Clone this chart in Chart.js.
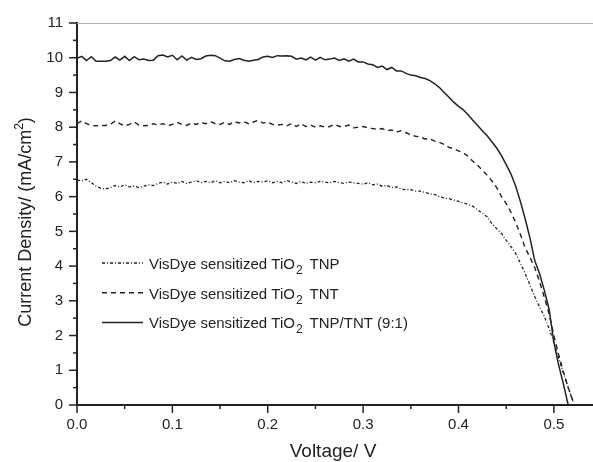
<!DOCTYPE html>
<html><head><meta charset="utf-8">
<script src="https://cdn.jsdelivr.net/npm/chart.js@4/dist/chart.umd.min.js"></script>
<style>html,body{margin:0;padding:0;background:#fff;overflow:hidden}#wrap{width:593px;height:462px;position:relative}</style>
</head><body><div id="wrap"><canvas id="c" width="593" height="462"></canvas></div>
<script>
// ---- data ----
const voltage = [
  0.000,0.005,0.010,0.015,0.020,0.025,0.030,0.035,0.040,0.045,
  0.050,0.055,0.060,0.065,0.070,0.075,0.080,0.085,0.090,0.095,
  0.100,0.105,0.110,0.115,0.120,0.125,0.130,0.135,0.140,0.145,
  0.150,0.155,0.160,0.165,0.170,0.175,0.180,0.185,0.190,0.195,
  0.200,0.205,0.210,0.215,0.220,0.225,0.230,0.235,0.240,0.245,
  0.250,0.255,0.260,0.265,0.270,0.275,0.280,0.285,0.290,0.295,
  0.300,0.305,0.310,0.315,0.320,0.325,0.330,0.335,0.340,0.345,
  0.350,0.355,0.360,0.365,0.370,0.375,0.380,0.385,0.390,0.395,
  0.400,0.405,0.410,0.415,0.420,0.425,0.430,0.435,0.440,0.445,
  0.450,0.455,0.460,0.465,0.470,0.475,0.480,0.485,0.490,0.495,
  0.500,0.505,0.510,0.515,0.520
];
const jTNP = [
  6.48,6.45,6.50,6.40,6.30,6.24,6.22,6.26,6.32,6.28,
  6.34,6.28,6.30,6.26,6.30,6.34,6.32,6.38,6.42,6.36,
  6.42,6.38,6.44,6.38,6.42,6.46,6.40,6.44,6.40,6.46,
  6.40,6.44,6.40,6.46,6.42,6.40,6.46,6.40,6.44,6.42,
  6.46,6.40,6.44,6.40,6.46,6.42,6.38,6.44,6.38,6.42,
  6.40,6.44,6.42,6.40,6.44,6.40,6.38,6.42,6.40,6.38,
  6.36,6.40,6.34,6.36,6.30,6.32,6.26,6.28,6.22,6.20,
  6.20,6.16,6.16,6.12,6.08,6.06,6.00,5.96,5.94,5.90,
  5.86,5.82,5.78,5.72,5.62,5.52,5.42,5.22,5.08,4.94,
  4.74,4.56,4.36,4.08,3.78,3.45,3.12,2.82,2.55,2.20,
  1.80,1.35,0.92,0.50,0.10
];
const jTNT = [
  8.10,8.18,8.10,8.05,8.04,8.05,8.05,8.08,8.18,8.10,
  8.04,8.08,8.15,8.06,8.04,8.05,8.10,8.06,8.10,8.04,
  8.08,8.14,8.08,8.05,8.12,8.08,8.14,8.10,8.16,8.10,
  8.08,8.14,8.08,8.16,8.12,8.16,8.10,8.15,8.20,8.12,
  8.14,8.08,8.06,8.08,8.04,8.10,8.02,8.10,8.02,8.06,
  8.00,8.04,8.00,8.02,8.08,8.02,8.02,8.06,7.98,8.00,
  8.02,7.98,7.96,7.94,7.96,7.90,7.92,7.86,7.90,7.84,
  7.78,7.74,7.72,7.66,7.66,7.60,7.56,7.50,7.42,7.38,
  7.32,7.26,7.16,7.02,6.90,6.76,6.62,6.45,6.26,6.00,
  5.80,5.55,5.25,4.90,4.52,4.25,3.95,3.55,3.10,2.62,
  2.00,1.45,0.95,0.50,0.12
];
const jMix = [
  9.98,10.04,9.92,10.03,9.90,9.90,9.90,9.92,10.02,9.93,
  10.04,9.92,10.03,9.94,9.96,9.92,9.93,10.06,10.08,10.02,
  10.07,9.94,10.05,9.93,10.01,9.95,9.97,10.05,10.07,10.06,
  9.99,9.91,9.90,9.95,9.98,9.93,9.90,9.93,9.95,10.02,
  10.04,10.01,10.06,10.05,10.06,10.04,9.96,9.99,9.94,10.02,
  9.93,10.01,9.94,9.96,9.99,9.92,9.97,9.90,9.96,9.88,
  9.88,9.82,9.80,9.72,9.76,9.66,9.72,9.62,9.62,9.55,
  9.50,9.48,9.43,9.40,9.34,9.25,9.14,9.00,8.86,8.72,
  8.60,8.50,8.36,8.20,8.05,7.90,7.75,7.58,7.40,7.18,
  6.92,6.65,6.30,5.85,5.35,4.80,4.15,3.78,3.30,2.75,
  1.80,1.15,0.60,0.00,null
];
const legendParts = [
  ['VisDye sensitized TiO', '2', 'TNP'],
  ['VisDye sensitized TiO', '2', 'TNT'],
  ['VisDye sensitized TiO', '2', 'TNP/TNT (9:1)']
];
const xTitle = 'Voltage/ V';
const yTitleParts = ['Current Density/ (mA/cm', '2', ')'];
const xRange = [0, 0.541];
const yRange = [0, 11];

// ---- styling ----
const FONT = '"Liberation Sans", Arial, Helvetica, sans-serif';
const INK = '#222222';
const dashes = [[3,2,1,2], [5,4], []];
const widths = [1.3, 1.4, 1.5];

function pts(arr){ return voltage.map((v,i)=>({x:v, y:arr[i]})); }

const decor = {
  id: 'decor',
  afterDraw(chart){
    const {ctx, chartArea:a, scales:{x, y}} = chart;
    ctx.save();
    // top frame line
    ctx.strokeStyle = '#b4b4b4'; ctx.lineWidth = 1;
    ctx.beginPath(); ctx.moveTo(a.left, a.top + 0.5); ctx.lineTo(a.right, a.top + 0.5); ctx.stroke();
    // tick marks (major / minor)
    ctx.strokeStyle = INK; ctx.lineWidth = 1.5;
    x.ticks.forEach(t => {
      const px = x.getPixelForValue(t.value);
      const L = t.label !== '' ? 8 : 4;
      ctx.beginPath(); ctx.moveTo(px, a.bottom); ctx.lineTo(px, a.bottom + L); ctx.stroke();
    });
    y.ticks.forEach(t => {
      const py = y.getPixelForValue(t.value);
      const L = t.label !== '' ? 8 : 4;
      ctx.beginPath(); ctx.moveTo(a.left, py); ctx.lineTo(a.left - L, py); ctx.stroke();
    });
    // legend
    const lx = a.left + 25, ly0 = a.top + 240, dy = 29.7;
    chart.data.datasets.forEach((ds, i) => {
      const ry = ly0 + i * dy;
      ctx.save();
      ctx.strokeStyle = ds.borderColor; ctx.lineWidth = ds.borderWidth;
      ctx.setLineDash(ds.borderDash || []);
      ctx.beginPath(); ctx.moveTo(lx, ry); ctx.lineTo(lx + 41, ry); ctx.stroke();
      ctx.restore();
      const p = legendParts[i];
      let tx = lx + 47; const base = ry + 6;
      ctx.fillStyle = INK; ctx.textBaseline = 'alphabetic'; ctx.textAlign = 'left';
      ctx.font = '15px ' + FONT; ctx.fillText(p[0], tx, base); tx += ctx.measureText(p[0]).width + 1;
      ctx.font = '12px ' + FONT; ctx.fillText(p[1], tx, base + 5); tx += ctx.measureText(p[1]).width + 7;
      ctx.font = '15px ' + FONT; ctx.fillText(p[2], tx, base);
    });
    // x title
    ctx.fillStyle = INK; ctx.font = '19px ' + FONT; ctx.textAlign = 'center'; ctx.textBaseline = 'alphabetic';
    ctx.fillText(xTitle, (a.left + a.right) / 2 - 2, 457);
    // y title with superscript
    ctx.save();
    ctx.translate(31, (a.top + a.bottom) / 2 + 8);
    ctx.rotate(-Math.PI / 2);
    ctx.textAlign = 'left';
    ctx.font = '18px ' + FONT; const w0 = ctx.measureText(yTitleParts[0]).width, w2 = ctx.measureText(yTitleParts[2]).width;
    ctx.font = '12px ' + FONT; const w1 = ctx.measureText(yTitleParts[1]).width;
    let sx = -(w0 + w1 + w2) / 2;
    ctx.font = '18px ' + FONT; ctx.fillText(yTitleParts[0], sx, 0); sx += w0;
    ctx.font = '12px ' + FONT; ctx.fillText(yTitleParts[1], sx, -8); sx += w1;
    ctx.font = '18px ' + FONT; ctx.fillText(yTitleParts[2], sx, 0);
    ctx.restore();
    ctx.restore();
  }
};

new Chart(document.getElementById('c'), {
  type: 'line',
  data: {
    datasets: [
      { label: legendParts[0][0] + legendParts[0][1] + ' ' + legendParts[0][2], data: pts(jTNP) },
      { label: legendParts[1][0] + legendParts[1][1] + ' ' + legendParts[1][2], data: pts(jTNT) },
      { label: legendParts[2][0] + legendParts[2][1] + ' ' + legendParts[2][2], data: pts(jMix) }
    ].map((d, i) => Object.assign(d, {
      borderColor: INK, borderWidth: widths[i], borderDash: dashes[i],
      pointRadius: 0, tension: 0, fill: false, spanGaps: false
    }))
  },
  options: {
    responsive: false, animation: false, devicePixelRatio: 1,
    layout: { padding: { top: 21, right: 0, left: 0, bottom: 0 } },
    plugins: { legend: { display: false }, tooltip: { enabled: false } },
    scales: {
      x: {
        type: 'linear', min: xRange[0], max: xRange[1],
        afterFit(s){ s.height = 57; },
        border: { display: true, color: INK, width: 2 },
        grid: { display: true, drawOnChartArea: false, drawTicks: false },
        ticks: {
          stepSize: 0.05, includeBounds: false, autoSkip: false, maxRotation: 0, padding: 11,
          color: INK, font: { family: FONT, size: 15 },
          callback(v){ const r = Math.round(v * 100); return r % 10 === 0 ? (r / 100).toFixed(1) : ''; }
        }
      },
      y: {
        type: 'linear', min: yRange[0], max: yRange[1],
        afterFit(s){ s.width = 77; },
        border: { display: true, color: INK, width: 2 },
        grid: { display: true, drawOnChartArea: false, drawTicks: false },
        ticks: {
          stepSize: 0.5, autoSkip: false, padding: 14,
          color: INK, font: { family: FONT, size: 15 },
          callback(v){ return Number.isInteger(v) ? String(v) : ''; }
        }
      }
    }
  },
  plugins: [decor]
});
</script>
</body></html>
